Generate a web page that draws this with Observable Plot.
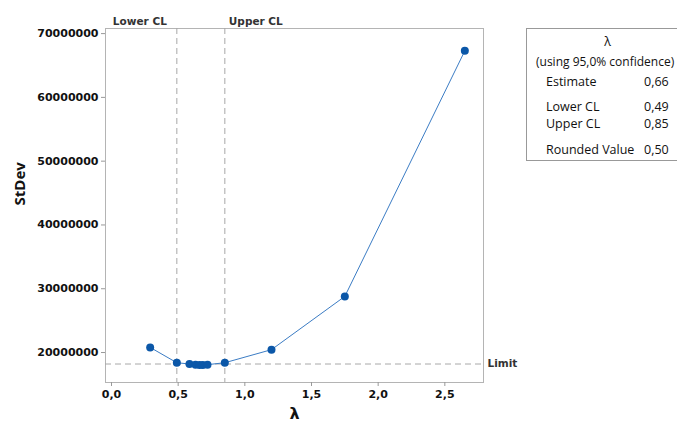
<!DOCTYPE html>
<html>
<head>
<meta charset="utf-8">
<script src="https://cdn.jsdelivr.net/npm/d3@7"></script>
<script src="https://cdn.jsdelivr.net/npm/@observablehq/plot@0.6"></script>
<style>
  html, body { margin: 0; padding: 0; background: #fff; overflow: hidden; width: 677px; height: 426px; }
  #wrap { position: relative; width: 677px; height: 426px; }
  #legend { position: absolute; left: 526px; top: 28px; width: 165px; height: 133px; border: 1px solid #999; box-sizing: border-box;
    font-family: "Open Sans", "Noto Sans", sans-serif; font-size: 12.5px; color: #111; background: #fff; }
  #legend .row { position: absolute; white-space: nowrap; }
</style>
</head>
<body>
<div id="wrap"></div>
<script>
const lambdas = [0.29, 0.49, 0.585, 0.63, 0.66, 0.685, 0.72, 0.85, 1.2, 1.75, 2.65];
const stdevs  = [20.8e6, 18.4e6, 18.2e6, 18.1e6, 18.05e6, 18.05e6, 18.1e6, 18.4e6, 20.45e6, 28.8e6, 67.3e6];
const lowerCL = 0.49;
const upperCL = 0.85;
const limit = 18.2e6;
const xTicks = [0, 0.5, 1.0, 1.5, 2.0, 2.5];
const yTicks = [20e6, 30e6, 40e6, 50e6, 60e6, 70e6];
const legendTitle = "λ";
const legendSub = "(using 95,0% confidence)";
const legendLabels = ["Estimate", "Lower CL", "Upper CL", "Rounded Value"];
const legendValues = ["0,66", "0,49", "0,85", "0,50"];

const pts = lambdas.map((l, i) => ({l, s: stdevs[i]}));
const fmtX = d => d3.format(".1f")(d).replace(".", ",");
const boldFont = "DejaVu Sans, sans-serif";

const chart = Plot.plot({
  width: 677, height: 426,
  marginLeft: 105, marginRight: 194, marginTop: 28, marginBottom: 44,
  style: {fontFamily: boldFont, background: "#fff"},
  x: {domain: [-0.045, 2.79]},
  y: {domain: [15.3e6, 70.8e6]},
  marks: [
    Plot.frame({stroke: "#b4b4b4"}),
    Plot.ruleX([lowerCL, upperCL], {stroke: "#a8a8a8", strokeDasharray: "6,4"}),
    Plot.ruleY([limit], {stroke: "#a8a8a8", strokeDasharray: "6,4"}),
    Plot.line(pts, {x: "l", y: "s", stroke: "#3b7cc4", strokeWidth: 1}),
    Plot.dot(pts, {x: "l", y: "s", r: 4, fill: "#0b57a8", stroke: "none"}),
    Plot.axisX({ticks: xTicks, tickFormat: fmtX, tickSize: 4, stroke: "#999", fill: "#111",
      fontWeight: "bold", fontSize: 11, tickPadding: 4, label: null}),
    Plot.axisY({ticks: yTicks, tickFormat: d3.format("d"), tickSize: 4, stroke: "#999", fill: "#111",
      fontWeight: "bold", fontSize: 11, tickPadding: 3, label: null}),
    Plot.text(["λ"], {frameAnchor: "bottom", dy: 36, fontSize: 16, fontWeight: "bold", fill: "#111"}),
    Plot.text(["StDev"], {frameAnchor: "left", dx: -85, rotate: -90, fontSize: 15, fontWeight: "bold", fill: "#111",
      fontFamily: "Open Sans, sans-serif"}),
    Plot.text([{x: lowerCL, t: "Lower CL"}], {x: "x", text: "t", frameAnchor: "top", dy: -11, dx: -10, textAnchor: "end",
      fontSize: 10.5, fontWeight: "bold", fill: "#333", letterSpacing: -0.6}),
    Plot.text([{x: upperCL, t: "Upper CL"}], {x: "x", text: "t", frameAnchor: "top", dy: -11, dx: 4, textAnchor: "start",
      fontSize: 10.5, fontWeight: "bold", fill: "#333", letterSpacing: -0.6}),
    Plot.text([{y: limit, t: "Limit"}], {y: "y", text: "t", frameAnchor: "right", dx: 4, textAnchor: "start",
      fontSize: 10.5, fontWeight: "bold", fill: "#333", letterSpacing: -0.6})
  ]
});
document.getElementById("wrap").appendChild(chart);

const leg = document.createElement("div");
leg.id = "legend";
const rows = [
  {t: legendTitle, x: 0, y: 4, center: true},
  {t: legendSub, x: 9, y: 24, size: "12px"}
];
const ys = [44, 69, 86, 112];
legendLabels.forEach((l, i) => {
  rows.push({t: l, x: 19, y: ys[i]});
  rows.push({t: legendValues[i], x: 117, y: ys[i]});
});
rows.forEach(r => {
  const d = document.createElement("div");
  d.className = "row";
  d.textContent = r.t;
  d.style.top = r.y + "px";
  if (r.size) d.style.fontSize = r.size;
  if (r.center) { d.style.left = "0"; d.style.width = "161px"; d.style.textAlign = "center"; }
  else d.style.left = r.x + "px";
  leg.appendChild(d);
});
document.getElementById("wrap").appendChild(leg);
</script>
</body>
</html>
